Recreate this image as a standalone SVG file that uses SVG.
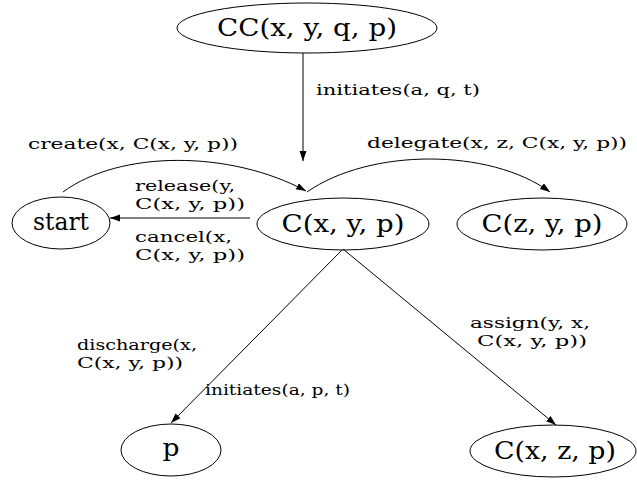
<svg xmlns="http://www.w3.org/2000/svg" width="637" height="482" viewBox="0 0 637 482">
<style>
text{font-family:"DejaVu Serif","Liberation Serif",serif}
.node ellipse{fill:none;stroke:#000;stroke-width:1}
.node text{font-size:24px;text-anchor:middle;fill:#000}
.edges path{fill:none;stroke:#000;stroke-width:1}
.lbl{font-size:15px;fill:#000}
</style>
<defs>
<marker id="ah" markerUnits="userSpaceOnUse" markerWidth="10" markerHeight="8" refX="10" refY="3.5" orient="auto">
<path d="M0,0 L10,3.5 L0,7 z" fill="#000"/>
</marker>
</defs>
<rect width="637" height="482" fill="#fff"/>
<g id="CC" class="node"><ellipse cx="307" cy="28" rx="130" ry="25"/><text x="307" y="36" textLength="180" lengthAdjust="spacingAndGlyphs">CC(x, y, q, p)</text></g>
<g id="start" class="node"><ellipse cx="61" cy="223" rx="49" ry="26"/><text x="61" y="230" textLength="56" lengthAdjust="spacingAndGlyphs">start</text></g>
<g id="Cxyp" class="node"><ellipse cx="343" cy="224" rx="86" ry="26"/><text x="343" y="232" textLength="123" lengthAdjust="spacingAndGlyphs">C(x, y, p)</text></g>
<g id="Czyp" class="node"><ellipse cx="542" cy="224" rx="85" ry="26"/><text x="542" y="232" textLength="121" lengthAdjust="spacingAndGlyphs">C(z, y, p)</text></g>
<g id="p" class="node"><ellipse cx="171" cy="450" rx="50" ry="26"/><text x="171" y="456" textLength="17" lengthAdjust="spacingAndGlyphs">p</text></g>
<g id="Cxzp" class="node"><ellipse cx="553" cy="451" rx="83" ry="26"/><text x="555" y="459" textLength="122" lengthAdjust="spacingAndGlyphs">C(x, z, p)</text></g>
<g id="edges" class="edges">
<path d="M303,53 L303,161" marker-end="url(#ah)"/>
<path d="M63,192 C120,150 230,150 306,191" marker-end="url(#ah)"/>
<path d="M307,192 C370,148 490,148 550,192" marker-end="url(#ah)"/>
<path d="M250,218 L110,218" marker-end="url(#ah)"/>
<path d="M342,250 L171,423" marker-end="url(#ah)"/>
<path d="M343,249 L556,425" marker-end="url(#ah)"/>
</g>
<g id="labels">
<text class="lbl" x="316" y="95" textLength="164" lengthAdjust="spacingAndGlyphs">initiates(a, q, t)</text>
<text class="lbl" x="28" y="149" textLength="210" lengthAdjust="spacingAndGlyphs">create(x, C(x, y, p))</text>
<text class="lbl" x="367" y="148" textLength="260" lengthAdjust="spacingAndGlyphs">delegate(x, z, C(x, y, p))</text>
<text class="lbl" x="135" y="191" textLength="100" lengthAdjust="spacingAndGlyphs">release(y,</text>
<text class="lbl" x="135" y="209" textLength="110" lengthAdjust="spacingAndGlyphs">C(x, y, p))</text>
<text class="lbl" x="135" y="242" textLength="97" lengthAdjust="spacingAndGlyphs">cancel(x,</text>
<text class="lbl" x="135" y="260" textLength="110" lengthAdjust="spacingAndGlyphs">C(x, y, p))</text>
<text class="lbl" x="77" y="350" textLength="120" lengthAdjust="spacingAndGlyphs">discharge(x,</text>
<text class="lbl" x="77" y="368" textLength="106" lengthAdjust="spacingAndGlyphs">C(x, y, p))</text>
<text class="lbl" x="205" y="395" textLength="145" lengthAdjust="spacingAndGlyphs">initiates(a, p, t)</text>
<text class="lbl" x="470" y="328" textLength="120" lengthAdjust="spacingAndGlyphs">assign(y, x,</text>
<text class="lbl" x="477" y="346" textLength="110" lengthAdjust="spacingAndGlyphs">C(x, y, p))</text>
</g>
</svg>
